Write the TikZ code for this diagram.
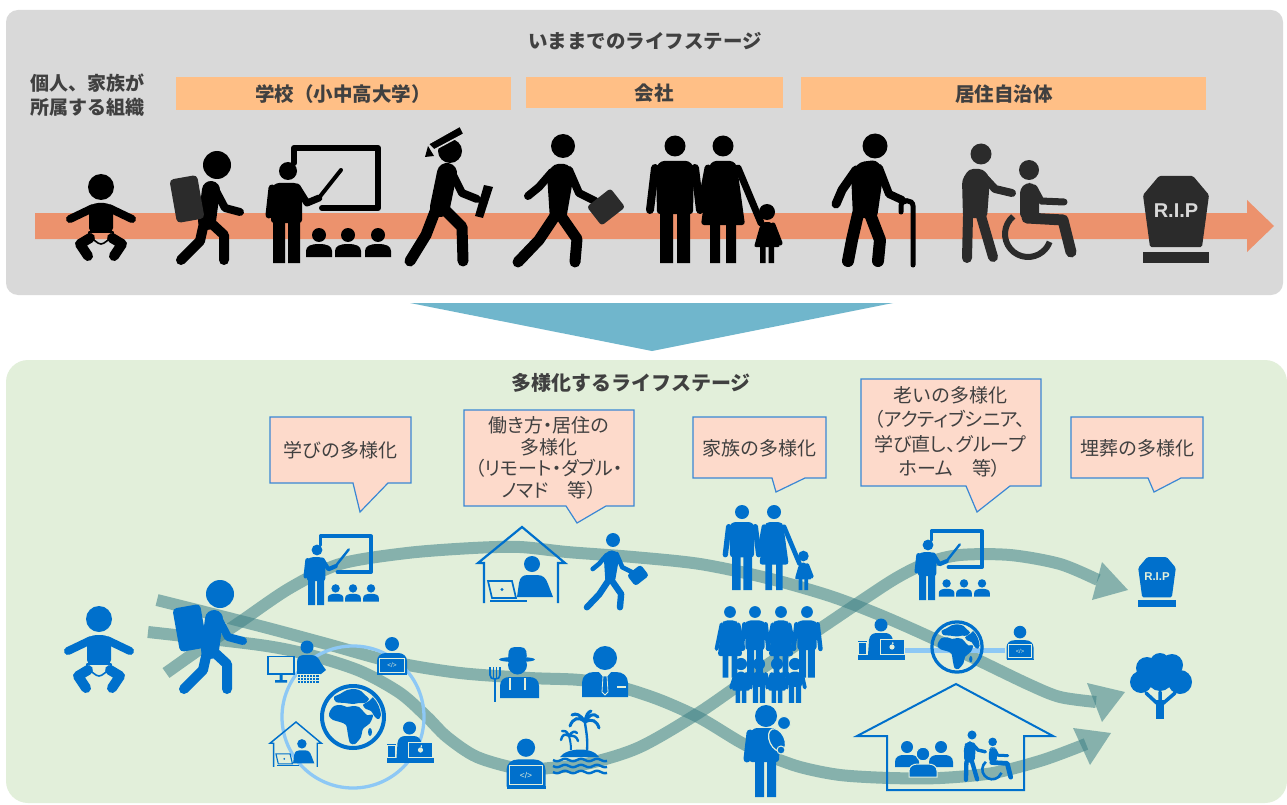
\documentclass[tikz,border=0pt]{standalone}
\usepackage{fontspec}
\setmainfont{Noto Sans CJK JP}
\newfontfamily\jpp{Noto Sans CJK JP}[RawFeature={+palt}]
\newfontfamily\latn{Liberation Sans}
\definecolor{panelgray}{HTML}{D9D9D9}
\definecolor{panelgreen}{HTML}{E2EFDA}
\definecolor{barorange}{HTML}{FFBF86}
\definecolor{arroworange}{HTML}{EC926D}
\definecolor{downblue}{HTML}{70B6CC}
\definecolor{calloutfill}{HTML}{FDDACB}
\definecolor{calloutline}{HTML}{3A87D4}
\definecolor{iconblue}{HTML}{0070CC}
\definecolor{bandcol}{HTML}{3F8288}
\definecolor{ringblue}{HTML}{8DC8F5}
\definecolor{txt}{HTML}{404040}
\definecolor{darkicon}{HTML}{2B2B2B}
\colorlet{icn}{black}
\colorlet{ica}{darkicon}
\colorlet{icb}{panelgray}

\tikzset{
  boldlbl/.style={font=\bfseries\fontsize{19.5}{22}\selectfont, text=txt, inner sep=0},
  calloutbox/.style={fill=calloutfill, draw=calloutline, line width=1.2, line join=miter},
  callouttext/.style={text=txt, inner sep=0, align=center},
  band/.style={draw=bandcol, draw opacity=0.56, line width=12},
  bandhead/.style={fill=bandcol, fill opacity=0.56},
  rl/.style={line cap=round, line join=round},
  % ---- pictograms (origin and size given for scale 1) ----
  pics/baby/.style={code={\begin{scope}[scale=#1]
    \fill[icn] (0,0) circle[radius=13];
    \fill[icn, rounded corners=4] (-12,45) -- (-12,20) -- (-7,16) -- (7,16) -- (12,20) -- (12,45) -- cycle;
    \draw[icn, rl, line width=#1*8] (-8,21) -- (-31,32) (8,21) -- (31,32);
    \draw[icn, line width=#1*1.6, line join=round] (-12,45) -- (12,45) -- (12,51) .. controls (6,52) and (4,57) .. (0,57) .. controls (-4,57) and (-6,52) .. (-12,51) -- cycle;
    \draw[icn, rl, line width=#1*10] (-11,51) -- (-21,57) -- (-13,69) (11,51) -- (21,57) -- (13,69);
  \end{scope}}},
  pics/backpacker/.style={code={\begin{scope}[scale=#1]
    \draw[icn, line cap=round, line width=#1*18] (-6,25) -- (-10,56);
    \draw[icn, rl, line width=#1*10] (-13,58) -- (-17,76) -- (-36,95) (-6,58) -- (7,70) -- (7,95);
    \draw[icn, rl, line width=#1*8] (-1,26) -- (8,43) -- (23,47);
    \fill[ica, rounded corners=4, rotate around={10:(-30,34)}] (-44,12) rectangle (-16,56);
    \fill[icn] (0,0) circle[radius=14];
  \end{scope}}},
  pics/teacher/.style={code={\begin{scope}[scale=#1]
    \draw[icn, rl, line width=#1*6] (6,-8) -- (6,-23) -- (90,-23) -- (90,37) -- (34,37);
    \fill[icn] (0,0) circle[radius=9];
    \fill[icn, rounded corners=3] (-17,52) -- (-17,17) -- (-12,12) -- (9,12) -- (14,17) -- (14,52) -- cycle;
    \fill[icn] (-15,50) rectangle (-3,92) (0,50) rectangle (12,92);
    \draw[icn, rl, line width=#1*7] (-16,17) -- (-19,44) (9,16) -- (19,32) -- (31,27);
    \draw[icn, line cap=round, line width=#1*4] (30,28) -- (53,-1);
    \foreach \cx in {31,60,90} {
      \fill[icn] (\cx,64) circle[radius=7];
      \fill[icn] (\cx-13,86) -- (\cx-13,80) .. controls (\cx-13,75) and (\cx-8,73) .. (\cx,73) .. controls (\cx+8,73) and (\cx+13,75) .. (\cx+13,80) -- (\cx+13,86) -- cycle;
    }
  \end{scope}}},
  pics/graduate/.style={code={\begin{scope}[scale=#1]
    \fill[icn] (0,0) circle[radius=12];
    \draw[icn, line cap=round, line width=#1*20] (-3,22) -- (-10,56);
    \draw[icn, rl, line width=#1*11] (-14,58) -- (-24,84) -- (-40,110) (-6,58) -- (12,76) -- (13,110);
    \draw[icn, rl, line width=#1*8] (2,22) -- (12,42) -- (27,48);
    \fill[icn] (34,34) -- (43,36) -- (33,67) -- (25,65) -- cycle;
    \filldraw[fill=icn, draw=icb, line width=#1*1.5] (-22,-7) -- (10,-25) -- (14,-17) -- (-16,-1) -- cycle;
    \fill[icn] (-22,-5) -- (-16,5) -- (-25,6) -- cycle;
  \end{scope}}},
  pics/walker/.style={code={\begin{scope}[scale=#1]
    \fill[icn] (0,0) circle[radius=12];
    \fill[icn, rounded corners=4] (-16,28) -- (-9,18) -- (5,18) -- (11,28) -- (3,74) -- (-13,74) -- cycle;
    \draw[icn, rl, line width=#1*8] (-11,26) -- (-24,41) -- (-35,50) (6,24) -- (16,47) -- (32,55);
    \draw[icn, rl, line width=#1*11] (-8,70) -- (-24,94) -- (-45,116) (-2,70) -- (14,93) -- (12,116);
    \fill[ica, rounded corners=3, rotate around={38:(43,61)}] (28,49) rectangle (58,73);
  \end{scope}}},
  pics/elder/.style={code={\begin{scope}[scale=#1]
    \fill[icn] (0,0) circle[radius=12.5];
    \fill[icn, rounded corners=4] (-24,26) -- (-15,16) -- (1,14) -- (9,24) -- (2,72) -- (-22,72) -- cycle;
    \draw[icn, rl, line width=#1*9] (-19,24) -- (-33,44) -- (-39,58);
    \draw[icn, rl, line width=#1*8] (4,22) -- (14,48) -- (27,54);
    \draw[icn, line cap=round, line width=#1*5] (26,66) -- (26,60) .. controls (26,53) and (38,53) .. (38,60) -- (38,119);
    \draw[icn, rl, line width=#1*12] (-17,68) -- (-23,94) -- (-27,115) (-5,68) -- (5,94) -- (3,115);
  \end{scope}}},
  pics/care/.style={code={\begin{scope}[scale=#1]
    \fill[icn] (0,0) circle[radius=10.5];
    \fill[icn, rounded corners=4] (-19,26) -- (-12,15) -- (2,15) -- (9,24) -- (6,64) -- (-18,64) -- cycle;
    \draw[icn, rl, line width=#1*8] (2,22) -- (14,35) -- (31,39);
    \draw[icn, rl, line width=#1*10] (-13,62) -- (-14,104) (0,62) -- (12,103);
    \fill[icn] (48,16) circle[radius=10];
    \fill[icn, rounded corners=4] (39,64) -- (39,35) -- (45,29) -- (52,29) -- (58,36) -- (58,64) -- cycle;
    \draw[icn, rl, line width=#1*7] (53,34) -- (60,47) -- (83,48);
    \draw[icn, rl, line width=#1*11] (46,64) -- (82,66) -- (90,98);
    \draw[icn, line width=#1*6] (47,80) ++(-130:23) arc[start angle=-130, end angle=-340, radius=23];
  \end{scope}}},
  pics/rip/.style={code={\begin{scope}[scale=#1]
    \fill[icn, rounded corners=1.5] (-17,0) -- (17,0) -- (33,19) -- (26,71) -- (-26,71) -- (-33,19) -- cycle;
    \fill[icn] (-33,76) rectangle (33,87);
    \node[transform shape, text=icb, font=\latn\bfseries\fontsize{20}{20}\selectfont, inner sep=0] (-lbl) at (0,35) {R.I.P};
  \end{scope}}},
  pics/family/.style={code={\begin{scope}[scale=#1]
    % father
    \fill[icn] (0,0) circle[radius=10.5];
    \fill[icn, rounded corners=3] (-18,68) -- (-19,21) -- (-14,15) -- (14,15) -- (19,21) -- (18,68) -- cycle;
    \fill[icn] (-15,64) rectangle (-2,117) (2,64) rectangle (15,117);
    \draw[icn, line cap=round, line width=#1*8] (-20,22) -- (-25,64) (20,22) -- (25,64);
    % mother
    \fill[icn] (48,0) circle[radius=10.5];
    \fill[icn, rounded corners=3] (34,20) -- (38,15) -- (58,15) -- (62,20) -- (70,79) -- (26,79) -- cycle;
    \fill[icn] (35,76) rectangle (45,117) (51,76) rectangle (61,117);
    \draw[icn, line cap=round, line width=#1*7] (33,22) -- (25,64) (63,22) -- (86,77);
    % daughter
    \fill[icn] (92,66) circle[radius=8];
    \fill[icn, rounded corners=2] (85,80) -- (88,76) -- (96,76) -- (99,80) -- (105,101) -- (79,101) -- cycle;
    \fill[icn] (85,98) rectangle (90.5,117) (93.5,98) rectangle (99,117);
    \draw[icn, line cap=round, line width=#1*5] (98,79) -- (105,97);
  \end{scope}}},
  pics/man/.style={code={\begin{scope}[scale=#1]
    \fill[icn] (0,0) circle[radius=10.5];
    \fill[icn, rounded corners=3] (-17,68) -- (-18,21) -- (-13,15) -- (13,15) -- (18,21) -- (17,68) -- cycle;
    \fill[icn] (-14,64) rectangle (-1.5,117) (1.5,64) rectangle (14,117);
    \draw[icn, line cap=round, line width=#1*8] (-19,22) -- (-24,66) (19,22) -- (24,66);
  \end{scope}}},
  pics/woman/.style={code={\begin{scope}[scale=#1]
    \fill[icn] (0,0) circle[radius=10.5];
    \fill[icn, rounded corners=3] (-14,20) -- (-10,15) -- (10,15) -- (14,20) -- (22,79) -- (-22,79) -- cycle;
    \fill[icn] (-13,76) rectangle (-3,117) (3,76) rectangle (13,117);
    \draw[icn, line cap=round, line width=#1*7] (-15,22) -- (-24,66) (15,22) -- (24,66);
  \end{scope}}},
  pics/girl/.style={code={\begin{scope}[scale=#1]
    \fill[icn] (0,0) circle[radius=8];
    \fill[icn, rounded corners=2] (-7,14) -- (-4,10) -- (4,10) -- (7,14) -- (12,35) -- (-12,35) -- cycle;
    \fill[icn] (-7,33) rectangle (-1.2,51) (1.2,33) rectangle (7,51);
    \draw[icn, line cap=round, line width=#1*5] (-7,13) -- (-13,31) (7,13) -- (13,31);
  \end{scope}}},
  pics/boy/.style={code={\begin{scope}[scale=#1]
    \fill[icn] (0,0) circle[radius=8];
    \fill[icn, rounded corners=2] (-9,30) -- (-9,14) -- (-5,10) -- (5,10) -- (9,14) -- (9,30) -- cycle;
    \fill[icn] (-8,28) rectangle (-1.2,51) (1.2,28) rectangle (8,51);
    \draw[icn, line cap=round, line width=#1*5] (-9,13) -- (-13,31) (9,13) -- (13,31);
  \end{scope}}},
  pics/homeworker/.style={code={\begin{scope}[scale=#1]
    \draw[icn, line width=#1*1.8+0.4] (-38,76) -- (-38,36) -- (-44,36) -- (0,0) -- (43,36) -- (36,36) -- (36,76);
    \fill[icn] (10,37) circle[radius=8];
    \fill[icn] (-5,70) -- (-3,56) .. controls (-2,50) and (1,48) .. (6,48) -- (15,48) .. controls (21,48) and (24,51) .. (26,57) -- (31,70) -- cycle;
    \draw[icn, line width=#1*1.4+0.3] (-34,54) -- (-10,54) -- (-6,71) -- (-30,71) -- cycle;
    \fill[icn] (-20,62.5) circle[radius=1.6];
    \draw[icn, line width=#1*2+0.3] (-32,74) -- (5,74);
  \end{scope}}},
  pics/codeworker/.style={code={\begin{scope}[scale=#1]
    \fill[icn] (0,-31) circle[radius=7];
    \fill[icn] (-15,-1) -- (-15,-14) .. controls (-15,-19) and (-11,-22) .. (-6,-22) -- (6,-22) .. controls (11,-22) and (15,-19) .. (15,-14) -- (15,-1) -- cycle;
    \filldraw[fill=icn, draw=icb, line width=#1*0.9] (-12.5,-17) rectangle (12.5,-2.5);
    \node[transform shape, text=icb, font=\latn\fontsize{6.5}{6.5}\selectfont, inner sep=0] (-code) at (0,-9.7) {</>};
    \fill[icn] (-15,-1.6) rectangle (15,0.4);
  \end{scope}}},
  pics/appleworker/.style={code={\begin{scope}[scale=#1]
    \fill[icn] (0,-35) circle[radius=6.5];
    \fill[icn] (-13,-5) -- (-12,-20) .. controls (-11.5,-25) and (-8,-27) .. (-4,-27) -- (4,-27) .. controls (8,-27) and (11,-25) .. (12,-20) -- (13,-5) -- cycle;
    \filldraw[fill=icn, draw=icb, line width=#1*0.9] (-1,-21) rectangle (23,-6);
    \fill[icb] (11,-13) circle[radius=2.6];
    \fill[icb] (11.8,-16.8) ellipse[x radius=0.8, y radius=1.4];
    \fill[icn] (-22,-17) rectangle (-15,-6);
    \fill[icn] (-23,-19) rectangle (-14,-17.8);
    \fill[icn] (-23,-5) rectangle (24,0);
  \end{scope}}},
  pics/globe/.style={code={\begin{scope}[scale=#1]
    \draw[icn, line width=#1*4] (0,0) circle[radius=31];
    \begin{scope}
      \clip (0,0) circle[radius=28];
      \fill[icn] plot[smooth cycle, tension=0.5] coordinates {(-23,-6) (-19,-11) (-12,-12) (-6,-10) (0,-11) (6,-10) (10,-6) (14,-2) (20,-2) (17,6) (10,12) (8,20) (2,27) (-3,26) (-5,18) (-7,8) (-13,5) (-20,3) (-24,-1)};
      \fill[icn] plot[smooth cycle, tension=0.5] coordinates {(-17,-15) (-19,-20) (-13,-23) (-6,-27) (2,-28) (8,-26) (12,-22) (16,-18) (12,-14) (6,-14) (0,-13) (-8,-14)};
      \fill[icn] plot[smooth cycle, tension=0.5] coordinates {(10,-12) (16,-16) (22,-21) (27,-15) (29,-6) (26,2) (22,0) (18,-6) (13,-8)};
      \fill[icn] (17,15) ellipse[x radius=2, y radius=4];
    \end{scope}
  \end{scope}}},
}

\begin{document}
\begin{tikzpicture}[x=1pt, y=-1pt]
\useasboundingbox (0,0) rectangle (1287,805);
\fill[white] (0,0) rectangle (1287,805);

% ================= conventional life stages =================
\fill[panelgray, rounded corners=12] (6,10) rectangle (1283,295);
\node[boldlbl] (oldTitle) at (645,41) {いままでのライフステージ};
\node[boldlbl, font=\bfseries\fontsize{19}{22}\selectfont] (orgA) at (87,83) {個人、家族が};
\node[boldlbl, font=\bfseries\fontsize{19}{22}\selectfont] (orgB) at (87,107) {所属する組織};

\fill[barorange] (176,77) rectangle (511,110);
\fill[barorange] (526,77) rectangle (783,108);
\fill[barorange] (801,77) rectangle (1206,110);
\node[boldlbl] (school) at (343,94) {学校（小中高大学）};
\node[boldlbl] (company) at (654,93) {会社};
\node[boldlbl] (town) at (1004,94) {居住自治体};

% timeline arrow
\fill[arroworange] (35,213) -- (1247,213) -- (1247,200) -- (1274,226) -- (1247,252) -- (1247,239) -- (35,239) -- cycle;

% stage pictograms
\pic (tBaby) at (101,187) {baby=1};
\pic (tPupil) at (217,165) {backpacker=1};
\pic (tClass) at (288,171) {teacher=1};
\pic (tGrad) at (450,151) {graduate=1};
\pic (tWork) at (563,146) {walker=1};
\pic (tFamily) at (675,146) {family=1};
\pic (tElder) at (875,146) {elder=1};
\colorlet{icn}{darkicon}
\pic (tCare) at (981,154) {care=1};
\pic (tRip) at (1176,176) {rip=1};

% transition arrow
\fill[downblue] (410,303) -- (893,303) -- (652,351) -- cycle;

% ================= diversified life stages =================
\colorlet{icn}{iconblue}
\colorlet{ica}{iconblue}
\colorlet{icb}{panelgreen}
\fill[panelgreen, rounded corners=22] (6,360) rectangle (1287,803);
\node[boldlbl, font=\bfseries\fontsize{20}{22}\selectfont] (newTitle) at (631,383) {多様化するライフステージ};

% callouts
\filldraw[calloutbox] (270,417) -- (411,417) -- (411,483) -- (388,483) -- (360,512) -- (353,483) -- (270,483) -- cycle;
\node[callouttext, font=\fontsize{19}{22}\selectfont] (cLearn) at (340,450) {学びの多様化};
\filldraw[calloutbox] (464,410) -- (634,410) -- (634,506) -- (606,506) -- (577,523) -- (566,506) -- (464,506) -- cycle;
\node[callouttext, font=\fontsize{19}{21.7}\selectfont] (cWork) at (549,458) {{\jpp 働き方・居住の}\\多様化\\{\jpp （リモート・ダブル・}\\{\jpp ノマド　等）}};
\filldraw[calloutbox] (693,417) -- (826,417) -- (826,478) -- (805,478) -- (776,492) -- (772,478) -- (693,478) -- cycle;
\node[callouttext, font=\fontsize{19}{22}\selectfont] (cFamily) at (759,448) {家族の多様化};
\filldraw[calloutbox] (861,379) -- (1041,379) -- (1041,486) -- (1010,486) -- (977,512) -- (966,486) -- (861,486) -- cycle;
\node[callouttext, font=\fontsize{19}{24.3}\selectfont] (cAge) at (950,432) {老いの多様化\\{\jpp （アクティブシニア、}\\{\jpp 学び直し、グループ}\\{\jpp ホーム　等）}};
\filldraw[calloutbox] (1071,417) -- (1203,417) -- (1203,478) -- (1181,478) -- (1154,492) -- (1148,478) -- (1071,478) -- cycle;
\node[callouttext, font=\fontsize{19}{22}\selectfont] (cBurial) at (1137,448) {埋葬の多様化};

% life paths
\draw[band] plot[smooth, tension=0.5] coordinates {(157,600) (260,626) (327,644) (393,662) (460,673) (530,678) (580,680) (620,687) (660,700) (700,718) (740,742) (767,755) (800,767) (840,775) (890,778) (940,778) (993,773) (1043,760) (1086,744)};
\draw[band] plot[smooth, tension=0.5] coordinates {(148,632) (260,645) (310,655) (360,671) (400,693) (427,717) (447,737) (477,757) (520,769) (550,768) (590,763) (640,747) (700,712) (767,665) (833,620) (893,580) (927,563) (960,555) (1010,555) (1060,564) (1098,580)};
\draw[band] plot[smooth, tension=0.5] coordinates {(166,673) (200,649) (240,622) (290,588) (340,564) (407,553) (473,548) (520,547) (567,552) (633,557) (700,564) (767,578) (830,596) (880,615) (930,637) (980,661) (1030,685) (1060,697) (1096,702)};
\fill[bandhead] (1102,562) -- (1128,590) -- (1092,600) -- cycle;
\fill[bandhead] (1087,683) -- (1125,692) -- (1102,722) -- cycle;
\fill[bandhead] (1073,728) -- (1111,733) -- (1090,765) -- cycle;

% global remote work markers
\draw[ringblue, line width=3.3] (353,717) circle[radius=71];
\draw[ringblue, line width=5] (885,650) -- (1005,650);

% childhood
\pic (bBaby) at (99,619) {baby=1};
\pic (bPupil) at (220,594) {backpacker=1};
\pic (bClass) at (317,550) {teacher=0.6};

% desktop worker
\draw[icn, line width=1.6] (268,656.5) rectangle (294,674);
\fill[icn] (279.5,674) rectangle (282.5,680) (275,680) rectangle (287,682.5);
\fill[icn] (307,647) circle[radius=6.5];
\fill[icn] (297,674) -- (297,662) .. controls (297,657) and (300,655) .. (304,655) -- (311,655) .. controls (316,655) and (319,658) .. (321,663) -- (326,670) -- (321,674) -- cycle;
\filldraw[fill=icn, draw=icb, line width=0.5] (297,674) rectangle (319,683);
\foreach \kx in {300,303,...,316} \draw[icb, line width=0.5] (\kx,674) -- (\kx,683);
\draw[icb, line width=0.5] (297,677) -- (319,677) (297,680) -- (319,680);

\pic (bCoderA) at (392,675) {codeworker=1};
\pic (bGlobeA) at (353,717) {globe=1};
\pic (bHomeA) at (296,722) {homeworker=0.59};
\pic (bMacA) at (409.5,763) {appleworker=1};

% working styles
\pic (bHomeB) at (522,527) {homeworker=1};
\pic (bWalker) at (613,540) {walker=0.58};

% farmer
\fill[icn, rounded corners=2] (508,658) -- (509,649) -- (513,647) -- (522,647) -- (526,649) -- (527,658) -- cycle;
\fill[icn] (517,659.5) ellipse[x radius=18, y radius=2.6];
\begin{scope}
  \clip (495,662.5) rectangle (540,690);
  \fill[icn] (517.5,665) circle[radius=9.5];
\end{scope}
\fill[icn] (500,698) -- (500,686) .. controls (500,680) and (504,677) .. (510,677) -- (529,677) .. controls (535,677) and (539,680) .. (539,686) -- (539,698) -- cycle;
\draw[icb, line width=1.2] (510,678) -- (510,690) (525,678) -- (525,690);
\draw[icn, line width=1.6] (490,667) -- (490,675) .. controls (490,678) and (492,679) .. (495,679) .. controls (498,679) and (500,678) .. (500,675) -- (500,667);
\draw[icn, line width=1.4] (493.5,667) -- (493.5,678) (496.5,667) -- (496.5,678);
\draw[icn, line width=2.4] (495,678) -- (495,702);

% office worker
\fill[icn] (605,658) circle[radius=12];
\fill[icn] (582,697) -- (582,683) .. controls (582,676) and (587,672) .. (594,672) -- (616,672) .. controls (623,672) and (628,676) .. (628,683) -- (628,697) -- cycle;
\fill[icb] (599,672) -- (611,672) -- (605,679) -- cycle;
\filldraw[fill=icn, draw=icb, line width=0.8] (603,676) -- (607,676) -- (608,692) -- (605,695) -- (602,692) -- cycle;
\draw[icb, line width=1.2] (617,687) -- (626,687);

\pic (bCoderB) at (526,788) {codeworker=1.3};

% island
\fill[icn] (560,757) .. controls (566,748) and (592,746) .. (599,757) -- cycle;
\draw[icn, line width=2.4] (587,750) .. controls (588,740) and (586,730) .. (585,723);
\draw[icn, line width=3, line cap=round] (585,722) .. controls (579,716) and (573,718) .. (570,726)
  (585,722) .. controls (580,714) and (576,713) .. (572,715)
  (585,722) .. controls (586,715) and (588,712) .. (591,711)
  (585,722) .. controls (589,714) and (594,713) .. (598,717)
  (585,722) .. controls (592,718) and (597,721) .. (599,728);
\draw[icn, line width=2] (571,750) .. controls (571,744) and (570,740) .. (569,736);
\draw[icn, line width=2.4, line cap=round] (569,736) .. controls (565,733) and (562,735) .. (561,740)
  (569,736) .. controls (567,731) and (564,730) .. (562,731)
  (569,736) .. controls (572,731) and (575,731) .. (577,733)
  (569,736) .. controls (574,735) and (577,737) .. (578,741);
\foreach \wy in {760,766,772}
  \draw[icn, line width=2.4] plot[domain=553:607, samples=50] (\x, {\wy + 1.2*sin(22.5*(\x-553))});

% families
\pic (bFamily) at (742,512) {family=0.667};
\pic (bW1) at (730,612) {woman=0.56};
\pic (bM1) at (755,612) {man=0.56};
\pic (bW2) at (781,612) {woman=0.56};
\pic (bM2) at (807,612) {man=0.56};
\pic (bG1) at (741,664) {girl=0.76};
\pic (bB1) at (759,664) {boy=0.76};
\pic (bG2) at (777,664) {girl=0.76};
\pic (bB2) at (795,664) {boy=0.76};

% single father with infant
\fill[icn] (766,716) circle[radius=11];
\fill[icn, rounded corners=3] (749,762) -- (749,734) -- (754,728) -- (776,728) -- (780,734) -- (779,762) -- cycle;
\fill[icn] (755,758) rectangle (764,797) (767,758) rectangle (776,797);
\draw[icn, line width=7, line cap=round] (750,733) -- (747,759);
\filldraw[fill=icn, draw=icb, line width=1.2, rotate around={25:(777,740)}] (777,740) ellipse[x radius=7.5, y radius=12];
\filldraw[fill=icn, draw=icb, line width=1] (784,723) circle[radius=6.5];
\filldraw[fill=icn, draw=icb, line width=1] (781,750) circle[radius=4];

% later life
\pic (bClassB) at (928,545) {teacher=0.6};
\pic (bRip) at (1157,557) {rip=0.57};
\pic (bMacB) at (881,660) {appleworker=1};
\pic (bGlobeB) at (957,647) {globe=0.81};
\pic (bCoderC) at (1020,660) {codeworker=0.9};

% tree burial
\fill[icn] (1147,668) circle[radius=11] (1172,665) circle[radius=11] (1160,663) circle[radius=10] (1141,682) circle[radius=11] (1180,682) circle[radius=12] (1160,678) circle[radius=13];
\draw[icn, line width=3.5, line cap=round] (1160,706) -- (1146,693) (1160,706) -- (1175,693) (1160,706) -- (1160,692);
\fill[icn] (1156,700) rectangle (1164,719);

% group home
\draw[icn, line width=2] (887,790) -- (887,736) -- (857,736) -- (956,684) -- (1053,736) -- (1024,736) -- (1024,790) -- cycle;
\fill[icn] (907,747) circle[radius=6] (941,747) circle[radius=6];
\fill[icn] (895,767) -- (895,762) .. controls (895,757) and (899,755) .. (903,755) -- (911,755) .. controls (915,755) and (919,757) .. (919,762) -- (919,767) -- cycle;
\fill[icn] (929,767) -- (929,762) .. controls (929,757) and (933,755) .. (937,755) -- (945,755) .. controls (949,755) and (953,757) .. (953,762) -- (953,767) -- cycle;
\filldraw[fill=icn, draw=icb, line width=1] (923,754) circle[radius=6.8];
\filldraw[fill=icn, draw=icb, line width=1] (909,777) -- (909,771) .. controls (909,766) and (913,764) .. (918,764) -- (928,764) .. controls (933,764) and (937,766) .. (937,771) -- (937,777) -- cycle;
\pic (bCare) at (972,735) {care=0.43};
\end{tikzpicture}
\end{document}
